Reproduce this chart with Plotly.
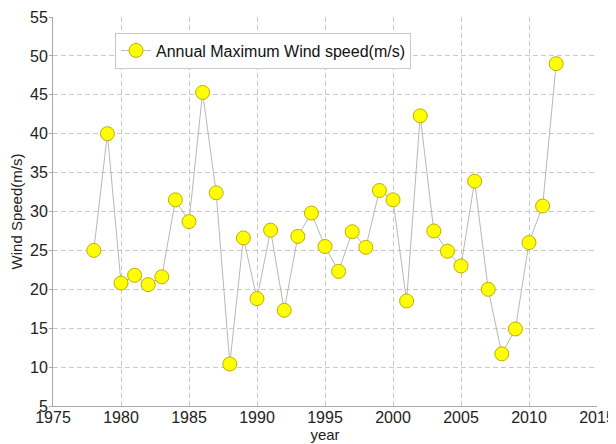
import plotly.graph_objects as go

years = list(range(1978, 2013))
speeds = [25.0, 40.0, 20.8, 21.8, 20.6, 21.6, 31.5, 28.7, 45.3, 32.4,
          10.4, 26.6, 18.8, 27.6, 17.3, 26.8, 29.8, 25.5, 22.3, 27.4,
          25.4, 32.7, 31.5, 18.5, 42.3, 27.5, 24.9, 23.0, 33.9, 20.0,
          11.7, 14.9, 26.0, 30.7, 49.0]
x_ticks = [1975, 1980, 1985, 1990, 1995, 2000, 2005, 2010, 2015]
y_ticks = [5, 10, 15, 20, 25, 30, 35, 40, 45, 50, 55]

fig = go.Figure()
fig.add_trace(go.Scatter(
    x=years, y=speeds, mode="lines+markers",
    name="Annual Maximum Wind speed(m/s)",
    line=dict(color="#b8b8b8", width=1),
    marker=dict(size=14, color="#ffff00", line=dict(color="#bfae00", width=1)),
))

grid = dict(showgrid=True, gridcolor="#c8c8c8", griddash="5px,3px", gridwidth=1,
            zeroline=False, showline=True, linecolor="#a8a8a8", linewidth=1,
            automargin=False,
            tickfont=dict(family="Liberation Sans, Arial", size=16, color="#222"))

# page body has an 8px margin, so the figure is sized to fill the rest of the window
fig.update_layout(
    width=608, height=436,
    margin=dict(l=45, r=19, t=9, b=38),
    paper_bgcolor="white", plot_bgcolor="white",
    font=dict(family="Liberation Sans, Arial", color="#222"),
    showlegend=True,
    legend=dict(x=0.114, y=0.96, xanchor="left", yanchor="top",
                bgcolor="white", bordercolor="#c8c8c8", borderwidth=1,
                font=dict(size=16, color="#111")),
    xaxis=dict(range=[1975, 2015], tickvals=x_ticks, ticks="", ticklabelstandoff=-3, **grid,
               title=dict(text="year", font=dict(size=15), standoff=4)),
    yaxis=dict(range=[5, 55], tickvals=y_ticks, ticks="outside", ticklen=3,
               tickcolor="#a8a8a8", ticklabelstandoff=-2, **grid,
               title=dict(text="Wind Speed(m/s)", font=dict(size=15), standoff=4)),
)

fig.write_html("out.html")
